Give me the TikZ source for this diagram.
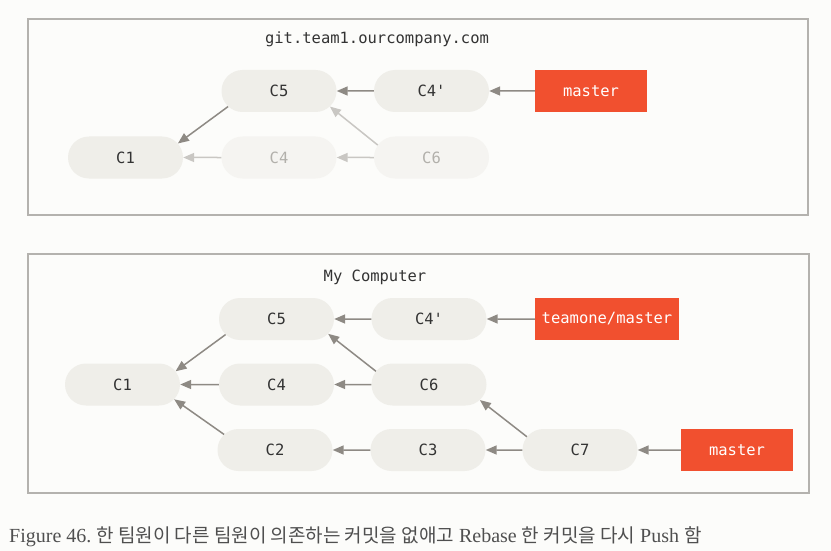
\documentclass[tikz,border=0pt]{standalone}
\usepackage{fontspec}
\setmonofont{DejaVu Sans Mono}
\newfontfamily\capserif{Liberation Serif}
\newfontfamily\capkrfont{Noto Sans CJK KR}
\usetikzlibrary{shapes.misc,arrows.meta}
\definecolor{bgc}{HTML}{FCFCFA}
\definecolor{framec}{HTML}{B4B2AE}
\definecolor{nodefill}{HTML}{EFEEE9}
\definecolor{fadefill}{HTML}{F5F4F1}
\definecolor{txt}{HTML}{333333}
\definecolor{fadetxt}{HTML}{B2B0AB}
\definecolor{arr}{HTML}{8E8A84}
\definecolor{fadearr}{HTML}{C9C7C3}
\definecolor{gitred}{HTML}{F1502F}
\definecolor{captxt}{HTML}{4F4F4F}
\newcommand{\kr}[1]{{\capkrfont\fontsize{19}{19}\selectfont #1}}
\newcommand{\lt}[1]{{\capserif\fontsize{20}{20}\selectfont #1}}
\newcommand{\gap}{\hspace{5pt}}
\tikzset{
  monofont/.style={font=\ttfamily\fontsize{15.5}{15.5}\selectfont},
  commit/.style={rounded rectangle, fill=nodefill, minimum width=115pt, minimum height=42pt, inner sep=0pt, text=txt, monofont},
  faded/.style={commit, fill=fadefill, text=fadetxt},
  refbox/.style={rectangle, fill=gitred, minimum height=42pt, inner sep=0pt, text=white, monofont},
  frame/.style={draw=framec, line width=2pt},
  title/.style={text=txt, monofont, inner sep=0pt},
  arrow/.style={draw=arr, line width=1.5pt, -{Triangle[length=11pt,width=9pt]}},
  fadearrow/.style={arrow, draw=fadearr},
}
\begin{document}
\begin{tikzpicture}[x=1pt,y=-1pt]
\fill[bgc] (0,0) rectangle (831,551);
\useasboundingbox (0,0) rectangle (831,551);
% top box
\draw[frame] (28,19) rectangle (808,215);
\node[title] (t1) at (377,39) {git.team1.ourcompany.com};
\node[commit] (a1) at (125.5,157.5) {C1};
\node[commit] (a5) at (279,91) {C5};
\node[faded] (a4) at (279,157.5) {C4};
\node[commit] (a4p) at (431.5,91) {C4'};
\node[faded] (a6) at (431.5,157.5) {C6};
\node[refbox, minimum width=112pt] (am) at (591,91) {master};
\draw[arrow] (a5.197) -- (a1.15);
\draw[fadearrow] (a4) -- (a1);
\draw[fadearrow] (a6) -- (a4);
\draw[fadearrow] (a6.167) -- (a5.-17);
\draw[arrow] (a4p) -- (a5);
\draw[arrow] (am) -- (a4p);
% bottom box
\draw[frame] (28,254) rectangle (809,493);
\node[title] (t2) at (375,277) {My Computer};
\node[commit] (b1) at (122.5,384.5) {C1};
\node[commit] (b5) at (276.5,319) {C5};
\node[commit] (b4) at (276.5,384.5) {C4};
\node[commit] (b2) at (275,450) {C2};
\node[commit] (b4p) at (429,319) {C4'};
\node[commit] (b6) at (429,384.5) {C6};
\node[commit] (b3) at (428,450) {C3};
\node[commit] (b7) at (580,450) {C7};
\node[refbox, minimum width=144pt] (bt) at (607,319) {teamone/master};
\node[refbox, minimum width=112pt] (bm) at (737,450) {master};
\draw[arrow] (b5.197) -- (b1.14);
\draw[arrow] (b4) -- (b1);
\draw[arrow] (b2.163) -- (b1.-16);
\draw[arrow] (b4p) -- (b5);
\draw[arrow] (b6) -- (b4);
\draw[arrow] (b6.166) -- (b5.-16);
\draw[arrow] (b3) -- (b2);
\draw[arrow] (b7) -- (b3);
\draw[arrow] (b7.166) -- (b6.-17);
\draw[arrow] (bt) -- (b4p);
\draw[arrow] (bm) -- (b7);
% caption
\node[anchor=base west, inner sep=0pt, text=captxt] (cap) at (9,542.5) {\lt{Figure 46.}\gap\kr{한 팀원이 다른 팀원이 의존하는 커밋을 없애고}\gap\lt{Rebase}\gap\kr{한 커밋을 다시}\gap\lt{Push}\gap\kr{함}};
\end{tikzpicture}
\end{document}
